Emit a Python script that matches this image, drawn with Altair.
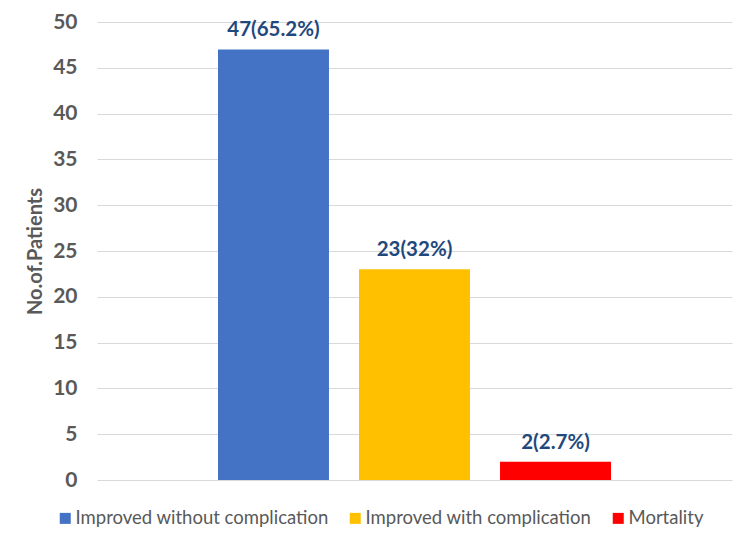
import altair as alt
import pandas as pd

categories = ["Improved without complication", "Improved with complication", "Mortality"]
patients = [47, 23, 2]
labels = ["47(65.2%)", "23(32%)", "2(2.7%)"]
colors = ["#4472C4", "#FFC000", "#FF0000"]

df = pd.DataFrame({"category": categories, "patients": patients, "label": labels})

FONT = "Lato"

x = alt.X("category:N", sort=categories, axis=None,
          scale=alt.Scale(paddingInner=0.213, paddingOuter=0.858))
y = alt.Y("patients:Q", title="No.of.Patients",
          scale=alt.Scale(domain=[0, 50]),
          axis=alt.Axis(values=list(range(0, 51, 5)), ticks=False, domain=False,
                        labelPadding=20, labelFontSize=21, labelFont=FONT,
                        labelFontWeight="bold", labelColor="#595959",
                        titleFontSize=20, titleFont=FONT, titleFontWeight="bold",
                        titleColor="#595959", titlePadding=7,
                        gridColor="#D9D9D9", gridWidth=1))

bars = alt.Chart(df).mark_bar().encode(
    x=x, y=y,
    color=alt.Color("category:N", sort=categories,
                    scale=alt.Scale(domain=categories, range=colors),
                    legend=alt.Legend(title=None, orient="none", direction="horizontal",
                                      legendX=-41, legendY=487, symbolType="square",
                                      symbolSize=121, symbolStrokeWidth=0,
                                      labelFont=FONT, labelFontSize=18.5,
                                      labelColor="#595959", labelOffset=1,
                                      columnPadding=17, labelLimit=400))
)

text = alt.Chart(df).mark_text(baseline="bottom", dy=-9, font=FONT, fontSize=20.5,
                               fontWeight="bold", color="#1F497D").encode(
    x=x, y=alt.Y("patients:Q"), text="label:N"
)

chart = (bars + text).properties(
    width=635, height=458,
    autosize=alt.AutoSizeParams(type="none"),
    padding={"left": 89, "top": 14, "right": 6, "bottom": 50},
    background="white",
).configure_view(stroke=None)

chart.save("out.html", embed_options={"renderer": "svg", "actions": False})
